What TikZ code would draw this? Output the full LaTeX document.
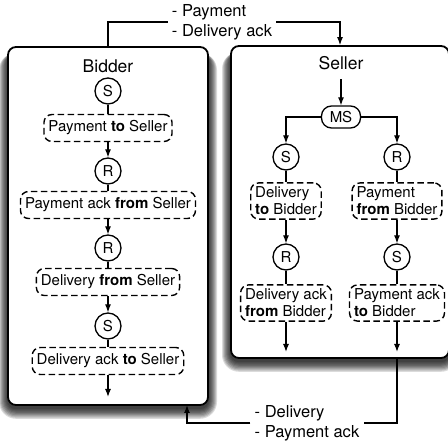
\documentclass[tikz,border=0pt]{standalone}
\usepackage{fontspec}
\setmainfont{TeX Gyre Heros}
\usetikzlibrary{arrows.meta}

\begin{document}
\begin{tikzpicture}[x=1pt, y=-1pt, font=\fontsize{15}{17}\selectfont]
\tikzset{party/.style = {draw, fill=white, line width=1.8, rounded corners=8, inner sep=0}}
\tikzset{role/.style = {shape=circle, draw, line width=1.3, minimum size=26, inner sep=0}}
\tikzset{msg/.style = {draw, line width=1.4, dash pattern=on 6.5pt off 3.5pt, rounded corners=8, inner xsep=4.5, inner ysep=4, minimum height=27}}
\tikzset{link/.style = {line width=1.2}}
\tikzset{edge/.style = {->, >={Latex[length=8pt, width=6pt]}, line width=1.2}}
\tikzset{flow/.style = {fill=white, align=left, inner sep=4, font=\fontsize{16.5}{20}\selectfont}}

\useasboundingbox (0,0) rectangle (448,443);

% soft shadows under both lanes
\foreach \i in {1,...,9} {
  \fill[black, opacity=0.14, rounded corners=8+\i] (8-\i,53) rectangle (208+\i,408+1.2*\i);
  \fill[black, opacity=0.14, rounded corners=8+\i] (231-\i,52) rectangle (449+\i,361+1.2*\i);
}

% bidder lane
\node[party, minimum width=200, minimum height=358] (bidder) at (108,226) {};
\node[font=\fontsize{17.5}{20}\selectfont] (btitle) at (108,66) {Bidder};
\node[role] (bs1) at (108,91) {S};
\node[msg] (bm1) at (108,128) {Payment \textbf{to} Seller};
\node[role] (br1) at (108,171) {R};
\node[msg] (bm2) at (108,205) {Payment ack \textbf{from} Seller};
\node[role] (br2) at (108,248) {R};
\node[msg] (bm3) at (108,282) {Delivery \textbf{from} Seller};
\node[role] (bs2) at (108,326) {S};
\node[msg] (bm4) at (108,361) {Delivery ack \textbf{to} Seller};
\coordinate (bend) at (108,397);
%edges
\draw[link] (bs1) -- (bm1);
\draw[edge] (bm1) -- (br1);
\draw[link] (br1) -- (bm2);
\draw[edge] (bm2) -- (br2);
\draw[link] (br2) -- (bm3);
\draw[edge] (bm3) -- (bs2);
\draw[link] (bs2) -- (bm4);
\draw[edge] (bm4) -- (bend);

% seller lane
\node[party, minimum width=218, minimum height=312] (seller) at (340,202) {};
\node[font=\fontsize{17.5}{20}\selectfont] (stitle) at (341,63) {Seller};
\node[draw, line width=1.3, rounded corners=10, minimum width=39, minimum height=22, inner sep=1] (ms) at (341,117) {MS};
\node[role] (ss1) at (286,157) {S};
\node[role] (sr1) at (397,157) {R};
\node[msg, align=left] (sm1) at (286,201) {Delivery\\\textbf{to} Bidder};
\node[msg, align=left] (sm2) at (397,201) {Payment\\\textbf{from} Bidder};
\node[role] (sr2) at (286,257) {R};
\node[role] (ss2) at (397,257) {S};
\node[msg, align=left] (sm3) at (286,303) {Delivery ack\\\textbf{from} Bidder};
\node[msg, align=left] (sm4) at (397,303) {Payment ack\\\textbf{to} Bidder};
\coordinate (send1) at (286,352);
\coordinate (send2) at (397,352);
%edges
\draw[edge, shorten <=6] (stitle) -- (ms);
\draw[edge] (ms.west) -| (ss1);
\draw[edge] (ms.east) -| (sr1);
\draw[link] (ss1) -- (sm1);
\draw[link] (sr1) -- (sm2);
\draw[edge] (sm1) -- (sr2);
\draw[edge] (sm2) -- (ss2);
\draw[link] (sr2) -- (sm3);
\draw[link] (ss2) -- (sm4);
\draw[edge] (sm3) -- (send1);
\draw[edge] (sm4) -- (send2);

% messages between the lanes
\node[flow] (paylabel) at (222,22) {- Payment\\- Delivery ack};
\node[flow] (dellabel) at (307,423) {- Delivery\\- Payment ack};
\coordinate (bin) at (187,405);
\draw[link] (bidder.north) |- (paylabel.west);
\draw[edge] (paylabel.east) -| (seller.north);
\draw[link] (seller.south -| sm4) |- (dellabel.east);
\draw[edge] (dellabel.west) -| (bin);

\end{tikzpicture}
\end{document}
